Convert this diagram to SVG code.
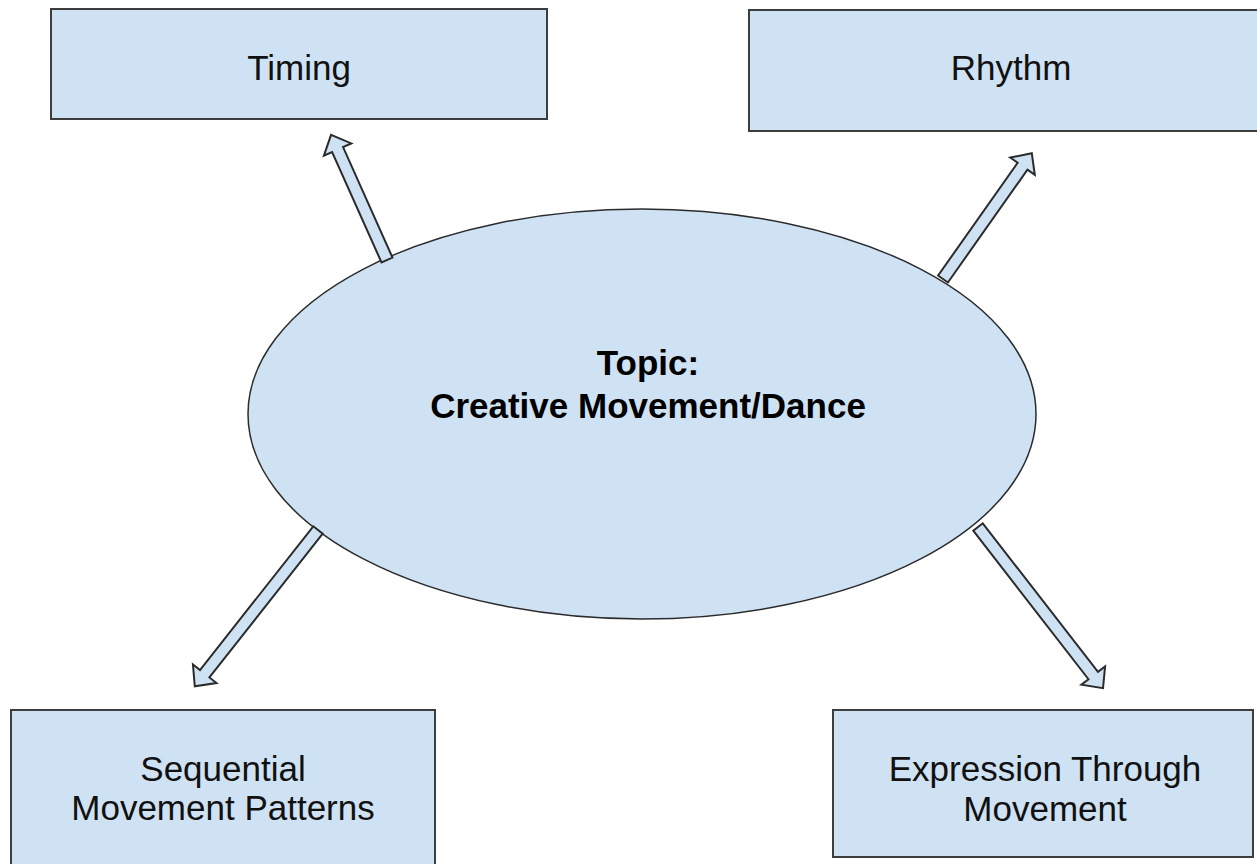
<svg xmlns="http://www.w3.org/2000/svg" width="1257" height="864" viewBox="0 0 1257 864">
  <style>
    .box { fill: #cfe2f3; stroke: #3d3d3d; stroke-width: 2; }
    .hub { fill: #cfe2f3; stroke: #2b2b2b; stroke-width: 1.5; }
    .arrow { fill: #cfe2f3; stroke: #2b2b2b; stroke-width: 2; stroke-linejoin: miter; }
    .label { font-family: "Liberation Sans", Arial, sans-serif; font-size: 35px; fill: #111; text-anchor: middle; }
    .title { font-family: "Liberation Sans", Arial, sans-serif; font-size: 35px; font-weight: bold; fill: #000; text-anchor: middle; }
  </style>
  <rect width="1257" height="864" fill="#ffffff"/>

  <!-- central topic -->
  <g id="topic">
    <ellipse class="hub" cx="642" cy="414" rx="394" ry="205"/>
    <text class="title" x="648" y="375">Topic:</text>
    <text class="title" x="648" y="418">Creative Movement/Dance</text>
  </g>

  <!-- block arrows from the topic to each branch -->
  <g id="connectors">
    <polygon class="arrow" transform="translate(387,260) rotate(-114.1)" points="0,-6 121,-6 121,-15 137,0 121,15 121,6 0,6"/>
    <polygon class="arrow" transform="translate(943,279) rotate(-54.8)" points="0,-6 138,-6 138,-15 154,0 138,15 138,6 0,6"/>
    <polygon class="arrow" transform="translate(318,530) rotate(128.25)" points="0,-6 183,-6 183,-15 199,0 183,15 183,6 0,6"/>
    <polygon class="arrow" transform="translate(978,527) rotate(52.2)" points="0,-6 188,-6 188,-15 204,0 188,15 188,6 0,6"/>
  </g>

  <g id="timing">
    <rect class="box" x="51" y="9" width="496" height="110"/>
    <text class="label" x="299" y="80">Timing</text>
  </g>

  <g id="rhythm">
    <rect class="box" x="749" y="10" width="520" height="121"/>
    <text class="label" x="1011" y="80">Rhythm</text>
  </g>

  <g id="sequential">
    <rect class="box" x="11" y="710" width="424" height="170"/>
    <text class="label" x="223" y="781">Sequential</text>
    <text class="label" x="223" y="820">Movement Patterns</text>
  </g>

  <g id="expression">
    <rect class="box" x="833" y="710" width="420" height="147"/>
    <text class="label" x="1045" y="781">Expression Through</text>
    <text class="label" x="1045" y="821">Movement</text>
  </g>
</svg>
